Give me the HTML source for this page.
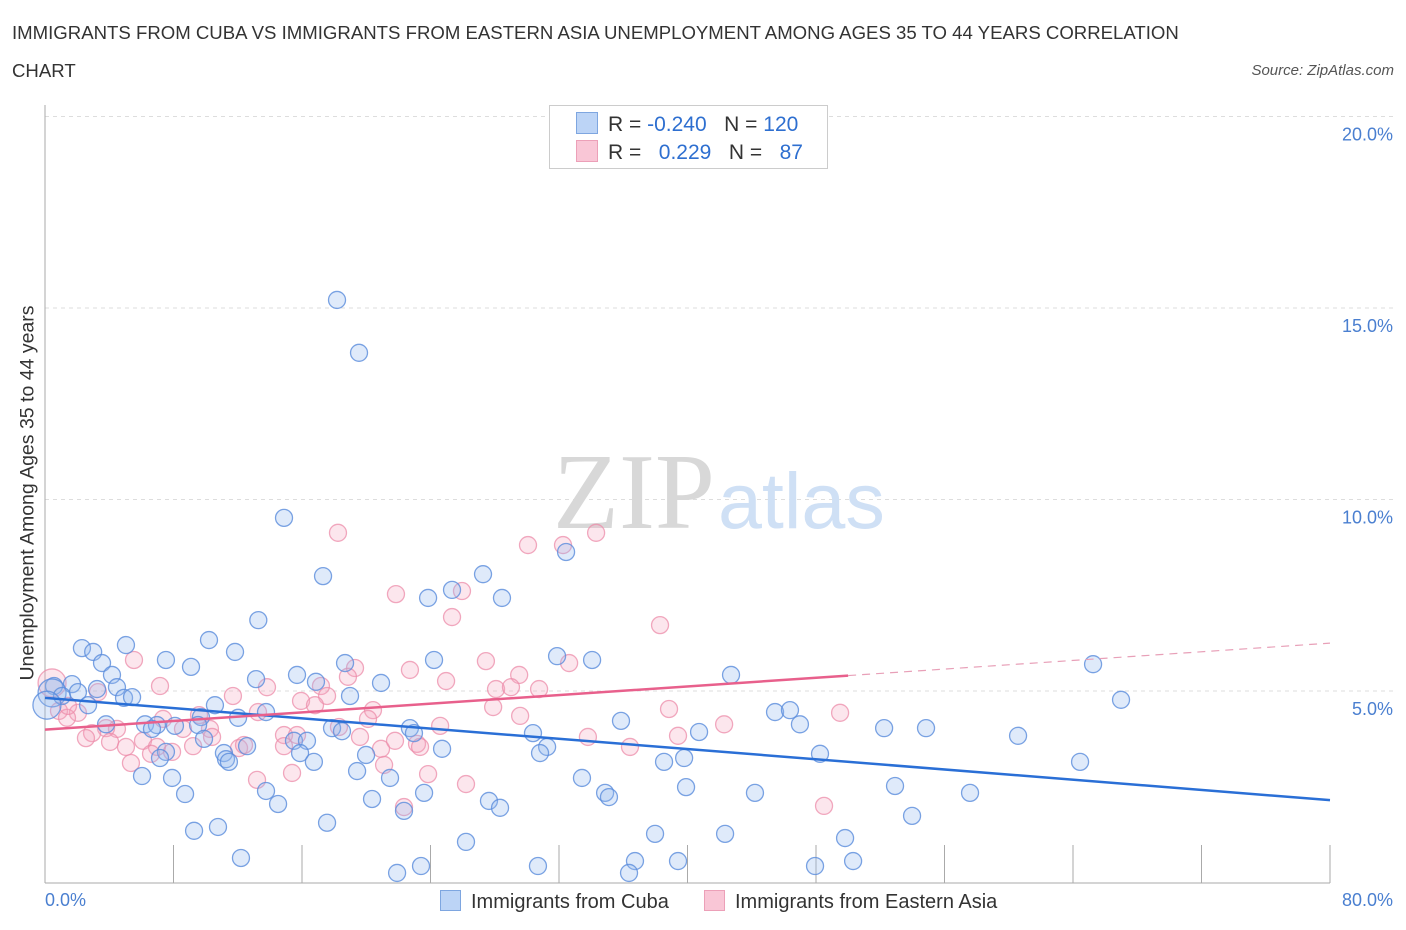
<!DOCTYPE html>
<html><head><meta charset="utf-8"><style>
body{margin:0;background:#fff;font-family:"Liberation Sans",sans-serif;}
#wrap{position:relative;width:1406px;height:930px;overflow:hidden;}
.t{position:absolute;color:#333;}
</style></head><body><div id="wrap">
<div class="t" style="left:12px;top:14px;font-size:18.6px;line-height:38px;width:1250px;">IMMIGRANTS FROM CUBA VS IMMIGRANTS FROM EASTERN ASIA UNEMPLOYMENT AMONG AGES 35 TO 44 YEARS CORRELATION<br>CHART</div>
<div class="t" style="right:12px;top:62px;font-size:15px;font-style:italic;color:#555;">Source: ZipAtlas.com</div>
<svg id="svg" width="1406" height="930" style="position:absolute;left:0;top:0"></svg>
</div>
<script>
const blueX=[18.18,19.55,14.88,17.31,27.27,32.44,23.85,25.34,28.45,13.28,10.21,5.04,2.30,3.0,11.83,7.53,3.55,9.09,18.68,24.22,31.88,34.06,65.25,4.17,13.14,15.69,16.87,20.92,42.71,0.56,1.68,3.24,4.48,0.44,1.06,2.05,4.92,5.42,18.99,66.99,2.68,10.58,13.76,9.71,12.02,45.45,46.38,3.8,6.23,6.97,8.09,9.53,17.87,22.72,18.49,22.97,30.38,35.86,40.72,47.0,52.24,54.85,60.58,6.66,9.9,15.5,16.31,24.72,31.26,30.82,7.53,11.14,12.58,15.88,11.27,7.16,11.45,16.74,19.99,39.79,38.54,48.25,64.44,19.43,21.48,6.04,7.91,33.43,39.91,52.92,8.72,13.76,23.6,34.87,35.11,44.2,57.59,14.51,20.36,27.64,28.33,22.35,53.98,17.56,9.28,10.77,37.98,42.34,49.81,26.21,12.2,23.41,21.92,30.69,36.73,39.41,36.36,47.94,50.31,0.12];
const blueY=[15.21,13.83,9.52,8.0,8.05,8.63,7.43,7.64,7.43,6.85,6.33,6.2,6.12,6.02,6.02,5.81,5.73,5.63,5.73,5.81,5.91,5.81,5.7,5.42,5.31,5.42,5.24,5.21,5.42,5.13,5.18,5.05,5.1,4.95,4.87,4.97,4.82,4.84,4.87,4.77,4.63,4.63,4.45,4.32,4.3,4.45,4.5,4.13,4.13,4.11,4.09,4.11,4.03,4.03,3.95,3.9,3.9,4.22,3.93,4.13,4.03,4.03,3.83,4.01,3.75,3.7,3.7,3.49,3.54,3.38,3.41,3.38,3.56,3.38,3.22,3.25,3.15,3.15,3.33,3.25,3.15,3.36,3.15,2.91,2.73,2.78,2.73,2.73,2.49,2.52,2.31,2.39,2.34,2.34,2.23,2.34,2.34,2.05,2.18,2.13,1.95,1.87,1.74,1.56,1.35,1.45,1.27,1.27,1.16,1.06,0.64,0.43,0.25,0.43,0.56,0.56,0.25,0.43,0.56,4.63];
const pinkX=[18.24,30.07,32.25,34.31,21.85,25.96,25.34,38.29,5.54,19.3,22.72,27.45,32.63,29.52,24.97,7.16,13.82,17.18,18.86,28.08,29.01,30.76,11.7,3.3,0.44,15.94,17.56,16.81,27.9,38.85,49.5,0.87,2.05,1.37,13.26,20.42,29.58,7.35,9.59,20.11,24.6,42.28,8.59,10.27,4.48,3.8,18.3,2.93,2.55,10.4,14.88,15.69,19.61,33.8,39.41,6.1,4.05,5.04,6.97,9.22,12.08,12.39,14.88,20.92,21.79,23.16,23.35,36.42,7.91,6.6,5.35,21.11,13.2,15.38,23.85,26.21,22.35,48.5,1.43];
const pinkY=[9.13,8.81,8.81,9.13,7.53,7.61,6.93,6.72,5.81,5.6,5.55,5.78,5.73,5.42,5.26,5.13,5.1,5.13,5.37,5.05,5.1,5.05,4.87,4.97,5.21,4.74,4.87,4.63,4.58,4.53,4.43,4.48,4.43,4.3,4.45,4.5,4.35,4.27,4.37,4.27,4.09,4.13,4.01,4.01,4.01,4.03,4.06,3.9,3.77,3.8,3.85,3.85,3.8,3.8,3.83,3.7,3.67,3.54,3.54,3.56,3.51,3.59,3.56,3.49,3.7,3.62,3.54,3.54,3.41,3.36,3.12,3.07,2.68,2.86,2.83,2.57,1.97,2.0,4.61];
const blueTrend=[4.82,2.15];
const pinkTrend=[3.99,6.25];
const pinkSolidEnd=50;
const yTicks=[5,10,15,20];
const yTickLabels=["5.0%","10.0%","15.0%","20.0%"];

const NS="http://www.w3.org/2000/svg";
const svg=document.getElementById('svg');
const X0=45,X1=1330,Y0=882.5,YS=191.5/5;
const sx=v=>X0+v/80*(X1-X0), sy=v=>Y0-v*YS;
function mk(t,a){const e=document.createElementNS(NS,t);for(const k in a)e.setAttribute(k,a[k]);svg.appendChild(e);return e;}
yTicks.forEach((v,i)=>{
 const g=mk('line',{x1:X0,x2:1395,y1:sy(v),y2:sy(v),stroke:'#ddd','stroke-dasharray':'4,4'});
 
 
 const t=mk('text',{x:1393,y:sy(v)+24,'text-anchor':'end','font-size':18,fill:'#4a7fd0','font-family':'Liberation Sans'});
 t.textContent=yTickLabels[i];
 
 
});
let a=mk('line',{x1:X0,x2:X0,y1:105,y2:883,stroke:'#aaa'});


a=mk('line',{x1:X0,x2:X1,y1:883,y2:883,stroke:'#aaa'});


for(let i=0;i<=10;i++){const tk=mk('line',{x1:sx(i*8),x2:sx(i*8),y1:845,y2:883,stroke:'#aaa'});
 
 }
let w=mk('text',{x:553,y:528,'font-size':108,fill:'#d8d8d8','font-family':'Liberation Serif'});w.textContent='ZIP';


w=mk('text',{x:718,y:528,'font-size':79,fill:'#cfe0f5','font-family':'Liberation Sans'});w.textContent='atlas';


function pts(xs,ys,fill,stroke,name){xs.forEach((x,i)=>{
 const big=x<0.5;
 const c=mk('circle',{cx:sx(x),cy:sy(ys[i]),r:big?14:8.5,fill:fill,stroke:stroke,'stroke-width':1.3});
 
 
});}
pts(pinkX,pinkY,'rgba(245,165,190,0.28)','rgba(236,140,170,0.75)','asia');
pts(blueX,blueY,'rgba(150,185,240,0.3)','rgba(90,140,220,0.8)','cuba');
let l=mk('line',{x1:sx(0),y1:sy(blueTrend[0]),x2:sx(80),y2:sy(blueTrend[1]),stroke:'#2a6fd6','stroke-width':2.5});


const pk=x=>pinkTrend[0]+(pinkTrend[1]-pinkTrend[0])*x/80;
l=mk('line',{x1:sx(0),y1:sy(pk(0)),x2:sx(pinkSolidEnd),y2:sy(pk(pinkSolidEnd)),stroke:'#e8608c','stroke-width':2.5});


l=mk('line',{x1:sx(pinkSolidEnd),y1:sy(pk(pinkSolidEnd)),x2:sx(80),y2:sy(pk(80)),stroke:'#e8a0b8','stroke-width':1.2,'stroke-dasharray':'8,6'});


</script>
<div style="position:absolute;left:549px;top:105px;width:277px;height:62px;border:1px solid #ccc;background:#fff;font-size:21px;">
 <div style="position:absolute;left:26px;top:6px;white-space:pre;"><span style="display:inline-block;width:20px;height:20px;background:#bcd4f6;border:1px solid #7ea6e0;vertical-align:-3px;margin-right:10px"></span><span style="color:#333">R = </span><span style="color:#2e6fd0">-0.240</span><span style="color:#333">   N = </span><span style="color:#2e6fd0">120</span></div>
 <div style="position:absolute;left:26px;top:34px;white-space:pre;"><span style="display:inline-block;width:20px;height:20px;background:#f9c6d6;border:1px solid #eca0b8;vertical-align:-3px;margin-right:10px"></span><span style="color:#333">R = </span><span style="color:#2e6fd0">  0.229</span><span style="color:#333">   N = </span><span style="color:#2e6fd0">  87</span></div>
</div>
<div class="t" style="left:28px;top:493px;font-size:19.5px;transform:translate(-50%,-50%) rotate(-90deg);white-space:nowrap;">Unemployment Among Ages 35 to 44 years</div>
<div class="t" style="left:45px;top:890px;font-size:18px;color:#4a7fd0">0.0%</div>
<div class="t" style="right:13px;top:890px;font-size:18px;color:#4a7fd0">80.0%</div>
<div class="t" style="left:440px;top:890px;font-size:20px;"><span style="display:inline-block;width:19px;height:19px;background:#bcd4f6;border:1px solid #7ea6e0;vertical-align:-3px;margin-right:10px"></span>Immigrants from Cuba</div>
<div class="t" style="left:704px;top:890px;font-size:20px;"><span style="display:inline-block;width:19px;height:19px;background:#f9c6d6;border:1px solid #eca0b8;vertical-align:-3px;margin-right:10px"></span>Immigrants from Eastern Asia</div>
</body></html>
